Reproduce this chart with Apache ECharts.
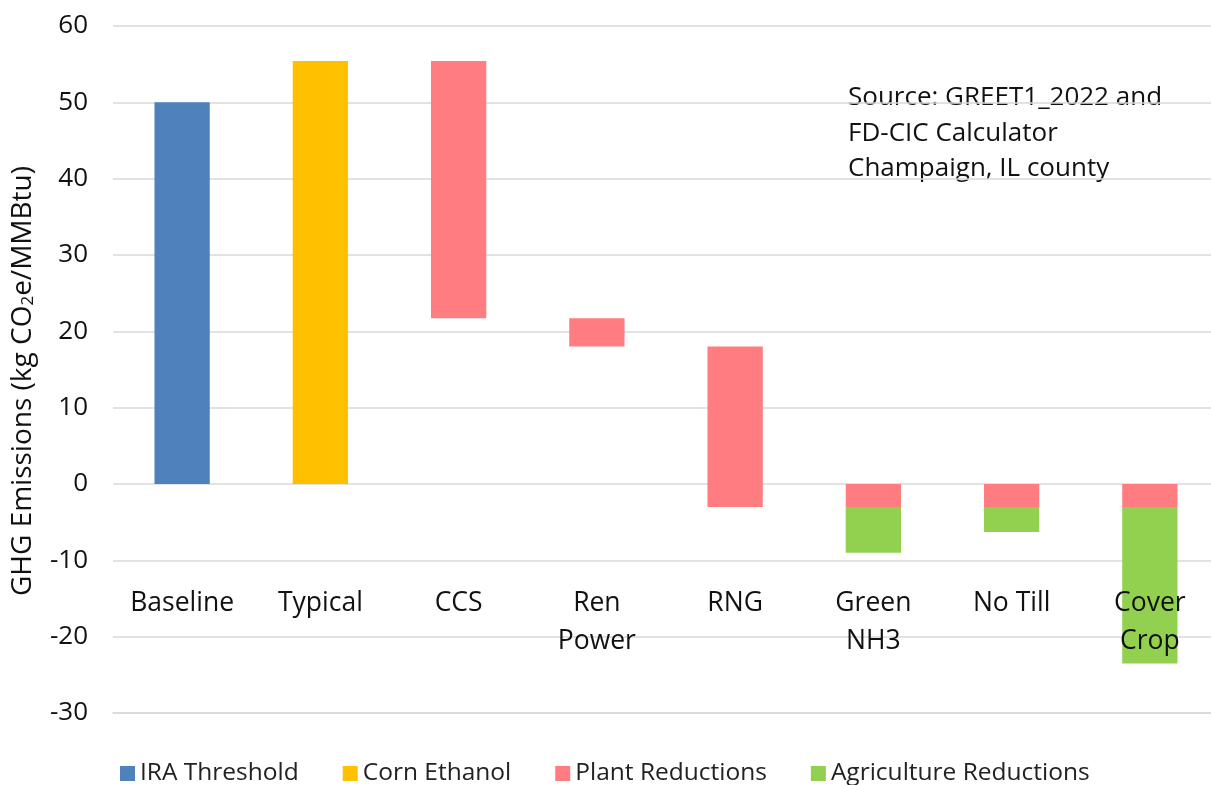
<!DOCTYPE html>
<html>
<head>
<meta charset="utf-8">
<script src="https://cdn.jsdelivr.net/npm/echarts@6/dist/echarts.min.js"></script>
<style>
  html, body { margin: 0; padding: 0; background: #fff; }
  #chart { width: 1211px; height: 785px; }
</style>
</head>
<body>
<div id="chart"></div>
<script>
// categories along the x axis
var categories = ['Baseline', 'Typical', 'CCS', 'Ren\nPower', 'RNG', 'Green\nNH3', 'No Till', 'Cover\nCrop'];
var yTicks = [-30, -20, -10, 0, 10, 20, 30, 40, 50, 60];

// floating segments: [low, high] per category, null where absent
var iraThreshold = [[0, 50], null, null, null, null, null, null, null];
var cornEthanol = [null, [0, 55.4], null, null, null, null, null, null];
var plantReductions = [null, null, [21.7, 55.4], [18, 21.7], [-3, 18], [-3, 0], [-3, 0], [-3, 0]];
var agricultureReductions = [null, null, null, null, null, [-9, -3], [-6.3, -3], [-23.5, -3]];

var font = 'Open Sans';

function toData(arr) {
  var out = [];
  arr.forEach(function (v, i) {
    if (v) out.push([i, v[0], v[1]]);
  });
  return out;
}

function renderBar(params, api) {
  var i = api.value(0);
  var lo = api.coord([i, api.value(1)]);
  var hi = api.coord([i, api.value(2)]);
  var w = api.size([1, 0])[0] * 0.4;
  return {
    type: 'rect',
    shape: { x: lo[0] - w / 2, y: hi[1], width: w, height: lo[1] - hi[1] },
    style: api.style()
  };
}

function mkSeries(name, arr, color) {
  return {
    name: name,
    type: 'custom',
    renderItem: renderBar,
    itemStyle: { color: color },
    encode: { x: 0, y: [1, 2] },
    data: toData(arr),
    z: 2
  };
}

var myChart = echarts.init(document.getElementById('chart'));
var option = {
  animation: false,
  textStyle: { fontFamily: font },
  grid: { left: 113, right: -8, top: 26, bottom: 72, outerBoundsMode: 'none', containLabel: false },
  legend: {
    left: 115,
    top: 756,
    itemWidth: 15,
    itemHeight: 15,
    itemGap: 44,
    icon: 'rect',
    textStyle: { fontFamily: font, fontSize: 24.5, color: '#222' },
    data: ['IRA Threshold', 'Corn Ethanol', 'Plant Reductions', 'Agriculture Reductions']
  },
  xAxis: {
    type: 'category',
    data: categories,
    z: 10,
    axisLine: { onZero: false, lineStyle: { color: '#d9d9d9', width: 1.5 } },
    axisTick: { show: false },
    axisLabel: {
      margin: -129,
      fontFamily: font,
      fontSize: 26.5,
      lineHeight: 38,
      color: '#111',
      interval: 0
    }
  },
  yAxis: {
    type: 'value',
    min: yTicks[0],
    max: yTicks[yTicks.length - 1],
    interval: 10,
    axisLine: { show: false },
    axisTick: { show: false },
    axisLabel: { fontFamily: font, fontSize: 26, color: '#111', margin: 25 },
    splitLine: { lineStyle: { color: '#d9d9d9', width: 1.5 } }
  },
  graphic: [{
    type: 'text',
    x: 23,
    y: 381,
    rotation: Math.PI / 2,
    style: {
      text: '{a|GHG Emissions (kg CO}{s|2}{a|e/MMBtu)}',
      align: 'center',
      verticalAlign: 'middle',
      rich: {
        a: { fontFamily: font, fontSize: 28, fill: '#111' },
        s: { fontFamily: font, fontSize: 17, fill: '#111', padding: [11, 0, 0, 0] }
      }
    }
  }, {
    type: 'text',
    left: 848,
    top: 80,
    style: {
      text: 'Source: GREET1_2022 and\nFD-CIC Calculator\nChampaign, IL county',
      font: '26px ' + font,
      lineHeight: 35.5,
      fill: '#111'
    }
  }],
  series: [
    mkSeries('IRA Threshold', iraThreshold, '#4F81BD'),
    mkSeries('Corn Ethanol', cornEthanol, '#FFC000'),
    mkSeries('Plant Reductions', plantReductions, '#FF7C80'),
    mkSeries('Agriculture Reductions', agricultureReductions, '#92D050')
  ]
};
myChart.setOption(option);
</script>
</body>
</html>
